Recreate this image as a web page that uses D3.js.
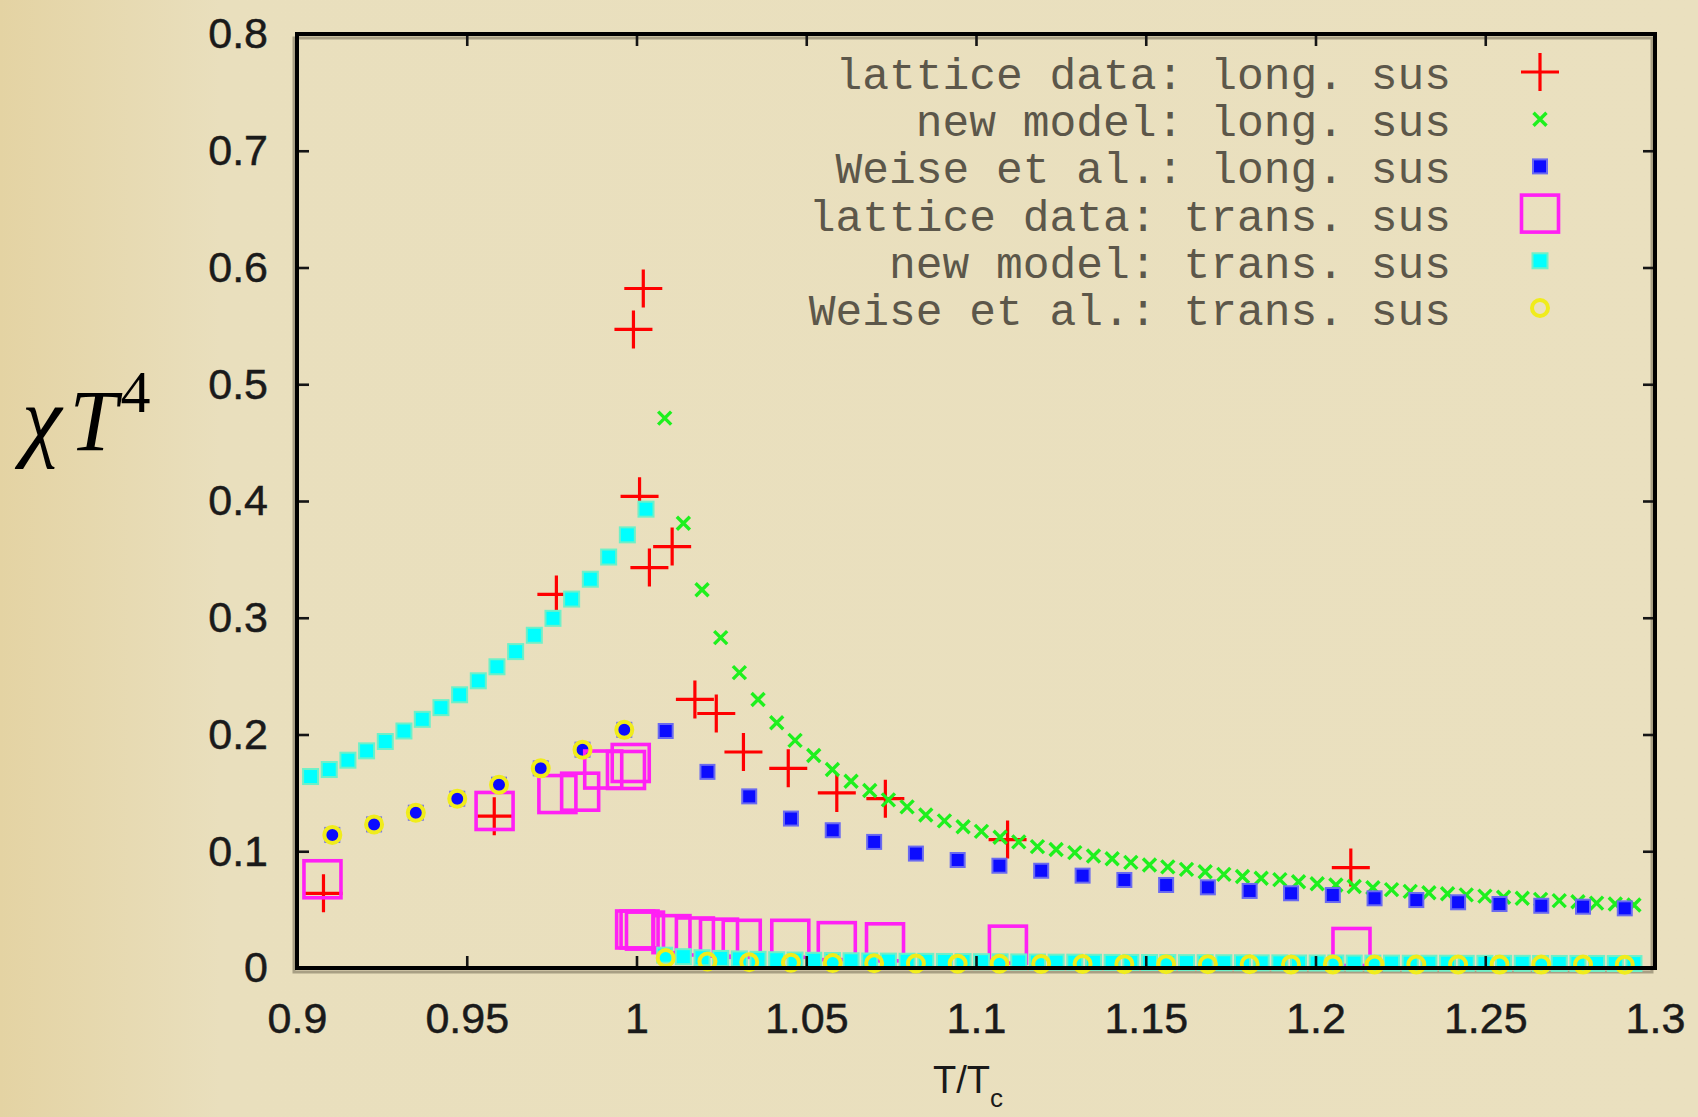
<!DOCTYPE html>
<html>
<head>
<meta charset="utf-8">
<script src="https://cdn.jsdelivr.net/npm/d3@7/dist/d3.min.js"></script>
<style>
  html, body { margin: 0; padding: 0; }
  body { width: 1698px; height: 1117px; overflow: hidden; background: #eae0bf; }
</style>
</head>
<body>
<div id="chart"></div>
<script>
// axes
const xTicks = [0.9, 0.95, 1, 1.05, 1.1, 1.15, 1.2, 1.25, 1.3];
const xTickLabels = ["0.9", "0.95", "1", "1.05", "1.1", "1.15", "1.2", "1.25", "1.3"];
const yTicks = [0, 0.1, 0.2, 0.3, 0.4, 0.5, 0.6, 0.7, 0.8];
const yTickLabels = ["0", "0.1", "0.2", "0.3", "0.4", "0.5", "0.6", "0.7", "0.8"];

const legendLabels = [
    "lattice data: long. sus",
    "new model: long. sus",
    "Weise et al.: long. sus",
    "lattice data: trans. sus",
    "new model: trans. sus",
    "Weise et al.: trans. sus"
];

// lattice data
const tLatticeLong = [0.9078, 0.9581, 0.9764, 0.9991, 1.0009, 1.002, 1.0038, 1.0105, 1.0172, 1.0235, 1.0315, 1.0447, 1.059, 1.0733, 1.1093, 1.2104];
const latticeLong = [0.064, 0.130, 0.320, 0.547, 0.404, 0.582, 0.343, 0.361, 0.230, 0.218, 0.185, 0.171, 0.150, 0.145, 0.110, 0.086];

const tLatticeTrans = [0.9075, 0.9582, 0.9767, 0.9834, 0.9902, 0.9969, 0.9983, 0.9996, 1.0009, 1.0025, 1.0103, 1.0172, 1.0243, 1.031, 1.0453, 1.059, 1.0732, 1.1094, 1.2106];
const latticeTrans = [0.076, 0.1345, 0.149, 0.151, 0.170, 0.1696, 0.1756, 0.033, 0.033, 0.032, 0.029, 0.027, 0.026, 0.025, 0.025, 0.023, 0.022, 0.020, 0.018];

// new model
const tNew = [0.904, 0.9095, 0.915, 0.9205, 0.926, 0.9315, 0.9369, 0.9424, 0.9479, 0.9534, 0.9589, 0.9644, 0.9699, 0.9754, 0.9809, 0.9864, 0.9918, 0.9973, 1.0028,
    1.0083, 1.0138, 1.0193, 1.0248, 1.0303, 1.0358, 1.0413, 1.0467, 1.0522, 1.0577, 1.0632, 1.0687, 1.0742, 1.0797, 1.0852, 1.0907, 1.0962, 1.1016, 1.1071, 1.1126,
    1.1181, 1.1236, 1.1291, 1.1346, 1.1401, 1.1456, 1.1511, 1.1565, 1.162, 1.1675, 1.173, 1.1785, 1.184, 1.1895, 1.195, 1.2005, 1.206, 1.2114, 1.2169, 1.2224,
    1.2279, 1.2334, 1.2389, 1.2444, 1.2499, 1.2554, 1.2609, 1.2663, 1.2718, 1.2773, 1.2828, 1.2883, 1.2938];
const newLong = [0.164, 0.170, 0.178, 0.186, 0.194, 0.203, 0.213, 0.223, 0.234, 0.246, 0.258, 0.271, 0.285, 0.2995, 0.316, 0.333, 0.352, 0.371, 0.393,
    0.471, 0.381, 0.324, 0.283, 0.253, 0.230, 0.210, 0.195, 0.182, 0.170,
    0.160, 0.152, 0.144, 0.138, 0.131, 0.126, 0.121, 0.117, 0.112, 0.108,
    0.104, 0.1015, 0.0988, 0.0959, 0.0936, 0.0905, 0.0882, 0.0866, 0.0845, 0.0825,
    0.0802, 0.0784, 0.0769, 0.0757, 0.0739, 0.0722, 0.0711, 0.0698, 0.0688, 0.0671,
    0.0656, 0.0645, 0.0636, 0.0626, 0.0616, 0.0606, 0.0597, 0.0588, 0.0577, 0.0567,
    0.0556, 0.0548, 0.054];
const newTrans = [0.164, 0.170, 0.178, 0.186, 0.194, 0.203, 0.213, 0.223, 0.234, 0.246, 0.258, 0.271, 0.285, 0.2995, 0.316, 0.333, 0.352, 0.371, 0.393,
    0.011, 0.0097, 0.0088, 0.0082, 0.0078, 0.0074, 0.0071, 0.0068, 0.0066, 0.0064,
    0.0062, 0.006, 0.0059, 0.0058, 0.0057, 0.0056, 0.0055, 0.0054, 0.0053, 0.0052,
    0.0051, 0.005, 0.005, 0.0049, 0.0048, 0.0048, 0.0047, 0.0047, 0.0046, 0.0046,
    0.0045, 0.0045, 0.0044, 0.0044, 0.0043, 0.0043, 0.0043, 0.0042, 0.0042, 0.0042,
    0.0041, 0.0041, 0.0041, 0.004, 0.004, 0.004, 0.004, 0.0039, 0.0039, 0.0039,
    0.0039, 0.0038, 0.0038];

// Weise et al.
const tWeise = [0.9104, 0.9227, 0.935, 0.9472, 0.9595, 0.9718, 0.9841, 0.9964, 1.0086, 1.0209, 1.0332, 1.0455, 1.0578, 1.07, 1.0823, 1.0946,
    1.1069, 1.1192, 1.1314, 1.1437, 1.156, 1.1683, 1.1806, 1.1928, 1.2051, 1.2174, 1.2297, 1.242, 1.2542, 1.2665, 1.2788, 1.2911];
const weiseLong = [0.114, 0.123, 0.133, 0.145, 0.157, 0.171, 0.187, 0.204, 0.203, 0.168, 0.147, 0.128, 0.118, 0.108, 0.098, 0.0925,
    0.0876, 0.0833, 0.0791, 0.0754, 0.0711, 0.0691, 0.066, 0.064, 0.0625, 0.0597, 0.0582, 0.0563, 0.0548, 0.0533, 0.0525, 0.0511];
const weiseTrans = [0.114, 0.123, 0.133, 0.145, 0.157, 0.171, 0.187, 0.204, 0.0086, 0.0056, 0.005, 0.0046, 0.0043, 0.0041, 0.0039, 0.0037,
    0.0036, 0.0035, 0.0034, 0.0033, 0.0033, 0.0032, 0.0032, 0.0031, 0.0031, 0.003, 0.003, 0.003, 0.0029, 0.0029, 0.0029, 0.0028];

const W = 1698, H = 1117;
const margin = { top: 34, right: 43, bottom: 149, left: 297 };

const svg = d3.select("#chart")
    .append("svg")
    .attr("width", W)
    .attr("height", H);

// fond beige, un peu plus fonce a gauche
const grad = svg.append("defs").append("linearGradient")
    .attr("id", "bg").attr("x1", "0").attr("x2", "1").attr("y1", "0").attr("y2", "0");
grad.append("stop").attr("offset", "0").attr("stop-color", "#e4d3a3");
grad.append("stop").attr("offset", "0.13").attr("stop-color", "#e9dfbd");
grad.append("stop").attr("offset", "1").attr("stop-color", "#eae0bf");
svg.append("rect").attr("width", W).attr("height", H).attr("fill", "url(#bg)");

const x = d3.scaleLinear().domain([0.9, 1.3]).range([margin.left, W - margin.right]);
const y = d3.scaleLinear().domain([0, 0.8]).range([H - margin.bottom, margin.top]);

const pw = x(1.3) - x(0.9);
const ph = y(0) - y(0.8);

// ombre grise du cadre
svg.append("rect")
    .attr("x", x(0.9) - 3).attr("y", y(0.8) + 4)
    .attr("width", pw).attr("height", ph)
    .attr("fill", "none").attr("stroke", "#a89f84").attr("stroke-width", 3);

const pts = (t, v) => d3.zip(t, v).map(([a, b]) => ({ t: a, v: b }));

// dessins des symboles
const drawPlus = (g, size, color) => {
    g.append("path")
        .attr("d", `M${-size},0H${size}M0,${-size}V${size}`)
        .attr("stroke", color).attr("stroke-width", 3.2).attr("fill", "none");
};
const drawX = (g, size, color) => {
    g.append("path")
        .attr("d", `M${-size},${-size}L${size},${size}M${-size},${size}L${size},${-size}`)
        .attr("stroke", color).attr("stroke-width", 3.4).attr("fill", "none");
};
const drawFilledSquare = (g, size, color, edge) => {
    g.append("rect")
        .attr("x", -size / 2).attr("y", -size / 2)
        .attr("width", size).attr("height", size)
        .attr("fill", color).attr("stroke", edge).attr("stroke-width", 2);
};
const drawOpenSquare = (g, size, color) => {
    g.append("rect")
        .attr("x", -size / 2).attr("y", -size / 2)
        .attr("width", size).attr("height", size)
        .attr("fill", "none").attr("stroke", color).attr("stroke-width", 3.6);
};
const drawCircle = (g, r, color) => {
    g.append("circle").attr("r", r)
        .attr("fill", "none").attr("stroke", color).attr("stroke-width", 4);
};

const markers = [
    g => drawPlus(g, 19, "#ff0000"),
    g => drawX(g, 6.5, "#1ef01e"),
    g => drawFilledSquare(g, 14, "#0c0cff", "#6a6af0"),
    g => drawOpenSquare(g, 37, "#ff20f4"),
    g => drawFilledSquare(g, 15, "#00ffff", "#6ef0c8"),
    g => drawCircle(g, 8, "#f0ec1c")
];

const series = [
    pts(tLatticeLong, latticeLong),
    pts(tNew, newLong),
    pts(tWeise, weiseLong),
    pts(tLatticeTrans, latticeTrans),
    pts(tNew, newTrans),
    pts(tWeise, weiseTrans)
];

series.forEach((data, i) => {
    svg.append("g")
        .selectAll("g")
        .data(data)
        .enter()
        .append("g")
        .attr("transform", d => `translate(${x(d.t)},${y(d.v)})`)
        .each(function () { markers[i](d3.select(this)); });
});

// axes avec graduations vers l'interieur
const fontTicks = "'Liberation Sans', Arial, sans-serif";

const styleAxis = (g) => {
    g.select(".domain").remove();
    g.selectAll(".tick line").attr("stroke", "#151515").attr("stroke-width", 2.6);
    g.selectAll(".tick text")
        .attr("fill", "#1a1a1a")
        .attr("stroke", "#1a1a1a").attr("stroke-width", 0.5)
        .style("font-family", fontTicks)
        .style("font-size", "43px");
};

svg.append("g")
    .attr("transform", `translate(0,${y(0)})`)
    .call(d3.axisBottom(x).tickValues(xTicks).tickFormat((d, i) => xTickLabels[i]).tickSize(-12).tickPadding(34))
    .call(styleAxis);

svg.append("g")
    .attr("transform", `translate(0,${y(0.8)})`)
    .call(d3.axisTop(x).tickValues(xTicks).tickFormat("").tickSize(-12))
    .call(styleAxis);

svg.append("g")
    .attr("transform", `translate(${x(0.9)},0)`)
    .call(d3.axisLeft(y).tickValues(yTicks).tickFormat((d, i) => yTickLabels[i]).tickSize(-12).tickPadding(29))
    .call(styleAxis);

svg.append("g")
    .attr("transform", `translate(${x(1.3)},0)`)
    .call(d3.axisRight(y).tickValues(yTicks).tickFormat("").tickSize(-12))
    .call(styleAxis);

// cadre
svg.append("rect")
    .attr("x", x(0.9)).attr("y", y(0.8))
    .attr("width", pw).attr("height", ph)
    .attr("fill", "none").attr("stroke", "#000").attr("stroke-width", 4);

// legende
const legend = svg.append("g");
legendLabels.forEach((label, i) => {
    const yc = 72 + i * 47.2;
    legend.append("text")
        .attr("x", 1451).attr("y", yc + 17)
        .attr("text-anchor", "end")
        .attr("fill", "#5c574a")
        .style("font-family", "'Liberation Mono', 'Courier New', monospace")
        .style("font-size", "44.6px")
        .text(label);
    const sym = legend.append("g").attr("transform", `translate(1540,${yc})`);
    markers[i](sym);
});

// titre axe x : T/Tc
const xLabel = svg.append("text")
    .attr("x", 933).attr("y", 1093)
    .attr("fill", "#1a1a1a")
    .style("font-family", fontTicks)
    .style("font-size", "38px");
xLabel.append("tspan").text("T/T");
xLabel.append("tspan").attr("dy", 14).style("font-size", "26px").text("c");

// titre axe y : chi T^4
const yLabel = svg.append("text")
    .attr("x", 22).attr("y", 450)
    .attr("fill", "#000")
    .style("font-family", "'Liberation Serif', 'Times New Roman', serif")
    .style("font-size", "86px");
yLabel.append("tspan").style("font-style", "italic").style("font-size", "90px").text("χ");
yLabel.append("tspan").attr("dx", 8).style("font-style", "italic").text("T");
yLabel.append("tspan").attr("dy", -38).attr("dx", 3).style("font-size", "60px").text("4");
</script>
</body>
</html>
